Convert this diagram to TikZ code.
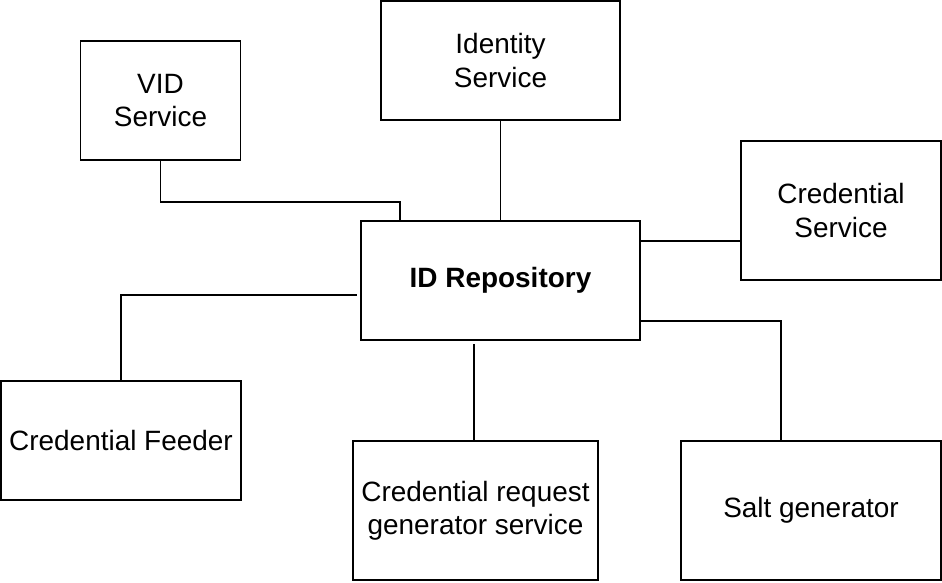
\documentclass[tikz,border=0pt]{standalone}
\usepackage{fontspec}
\setmainfont{Liberation Sans}
\usetikzlibrary{positioning}

\begin{document}
\begin{tikzpicture}[x=0.02cm,y=-0.02cm]
\tikzstyle{box}=[rectangle, draw=black, line width=1.1pt, fill=white, align=center, inner sep=0pt, font=\fontsize{15.9}{18.8}\selectfont]
\tikzstyle{link}=[line width=1.1pt]
\useasboundingbox (0,0) rectangle (942,582);
\node[box, minimum width=4.78cm, minimum height=2.38cm] (ident) at (500.5,60.5) {Identity\\Service};
\node[box, minimum width=3.2cm, minimum height=2.38cm] (vid) at (160.5,100.5) {VID\\Service};
\node[box, minimum width=4cm, minimum height=2.78cm] (cred) at (841,210.5) {Credential\\Service};
\node[box, minimum width=5.58cm, minimum height=2.38cm, font=\fontsize{15.9}{18.8}\selectfont\bfseries] (repo) at (500.5,280.5) {ID Repository};
\node[box, minimum width=4.8cm, minimum height=2.38cm] (feeder) at (121,440.5) {Credential Feeder};
\node[box, minimum width=4.9cm, minimum height=2.78cm] (req) at (475.5,510.5) {Credential request\\generator service};
\node[box, minimum width=5.2cm, minimum height=2.78cm] (salt) at (811,510.5) {Salt generator};
\coordinate (feedend) at (357,295);
\coordinate (reqstart) at (474,344);
\draw[link] (vid.south) -- ++(0,41) -| ([xshift=0.8cm]repo.north west);
\draw[link] (ident.south) -- (ident.south |- repo.north);
\draw[link] (repo.east |- 0,241) -- (cred.west |- 0,241);
\draw[link] (feeder.north) |- (feedend);
\draw[link] (reqstart) -- (req.north -| reqstart);
\draw[link] (repo.east |- 0,321) -| ([xshift=-0.6cm]salt.north);
\end{tikzpicture}
\end{document}
